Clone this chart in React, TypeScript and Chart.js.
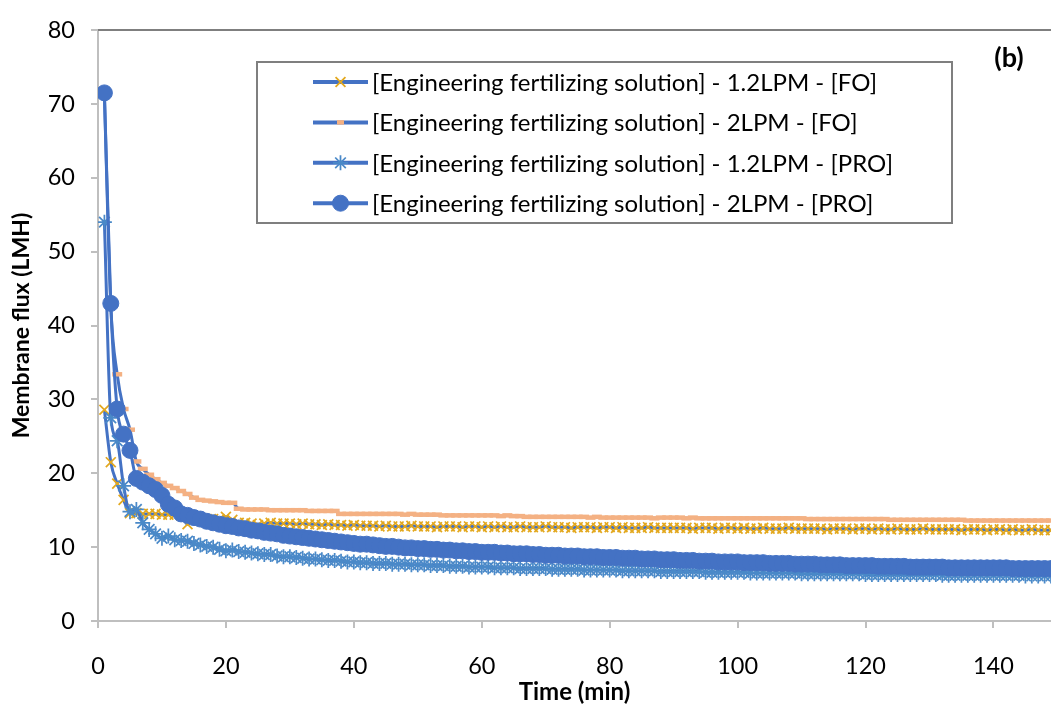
import { useEffect, useRef } from 'react';
import { Chart, registerables } from 'chart.js';
import { drawPoint } from 'chart.js/helpers';

Chart.register(...registerables);

const TIME_MIN = [
  1, 2, 3, 4, 5, 6, 7, 8, 9, 10, 11, 12, 13, 14, 15, 16, 17, 18, 19, 20,
  21, 22, 23, 24, 25, 26, 27, 28, 29, 30, 31, 32, 33, 34, 35, 36, 37, 38, 39, 40,
  41, 42, 43, 44, 45, 46, 47, 48, 49, 50, 51, 52, 53, 54, 55, 56, 57, 58, 59, 60,
  61, 62, 63, 64, 65, 66, 67, 68, 69, 70, 71, 72, 73, 74, 75, 76, 77, 78, 79, 80,
  81, 82, 83, 84, 85, 86, 87, 88, 89, 90, 91, 92, 93, 94, 95, 96, 97, 98, 99, 100,
  101, 102, 103, 104, 105, 106, 107, 108, 109, 110, 111, 112, 113, 114, 115, 116, 117, 118, 119, 120,
  121, 122, 123, 124, 125, 126, 127, 128, 129, 130, 131, 132, 133, 134, 135, 136, 137, 138, 139, 140,
  141, 142, 143, 144, 145, 146, 147, 148, 149, 150,
];

const FO_12LPM = [
  28.6, 21.5, 18.6, 16.4, 14.6, 14.6, 14.5, 14.5, 14.5, 14.4,
  14.4, 14.4, 14.3, 13.1, 13.9, 13.9, 13.8, 13.8, 13.8, 14.1,
  13.7, 13.3, 13.3, 13.2, 13.0, 13.2, 13.3, 13.2, 13.2, 13.2,
  13.1, 13.2, 13.1, 13.1, 13.0, 13.1, 13.0, 13.0, 12.9, 13.0,
  12.9, 12.9, 12.9, 12.8, 12.9, 12.8, 12.8, 12.8, 12.9, 12.8,
  12.8, 12.8, 12.7, 12.8, 12.8, 12.8, 12.7, 12.8, 12.8, 12.7,
  12.8, 12.7, 12.8, 12.7, 12.7, 12.8, 12.7, 12.7, 12.7, 12.8,
  12.7, 12.7, 12.7, 12.6, 12.7, 12.7, 12.7, 12.6, 12.7, 12.7,
  12.6, 12.7, 12.6, 12.6, 12.6, 12.7, 12.6, 12.6, 12.6, 12.6,
  12.6, 12.6, 12.5, 12.6, 12.6, 12.6, 12.5, 12.6, 12.6, 12.5,
  12.6, 12.5, 12.5, 12.6, 12.5, 12.5, 12.5, 12.6, 12.5, 12.5,
  12.5, 12.5, 12.5, 12.4, 12.5, 12.5, 12.5, 12.4, 12.5, 12.5,
  12.4, 12.5, 12.4, 12.4, 12.5, 12.4, 12.4, 12.4, 12.5, 12.4,
  12.4, 12.4, 12.4, 12.4, 12.3, 12.4, 12.4, 12.4, 12.3, 12.4,
  12.4, 12.3, 12.4, 12.3, 12.3, 12.4, 12.3, 12.3, 12.3, 12.3,
];

const FO_2LPM = [
  71.2, 42.6, 33.4, 28.7, 25.9, 21.6, 20.6, 19.8, 19.2, 18.7,
  18.3, 18.0, 17.6, 17.2, 16.7, 16.4, 16.3, 16.2, 16.1, 16.0,
  16.0, 15.2, 15.1, 15.1, 15.1, 15.1, 15.0, 15.0, 15.0, 15.0,
  15.0, 15.0, 14.9, 14.9, 14.9, 14.9, 14.9, 14.5, 14.5, 14.5,
  14.5, 14.5, 14.5, 14.5, 14.5, 14.5, 14.5, 14.4, 14.5, 14.4,
  14.4, 14.4, 14.4, 14.3, 14.3, 14.3, 14.3, 14.3, 14.3, 14.3,
  14.3, 14.3, 14.2, 14.3, 14.2, 14.2, 14.1, 14.1, 14.1, 14.1,
  14.1, 14.1, 14.1, 14.1, 14.1, 14.1, 14.0, 14.1, 14.0, 14.0,
  14.0, 14.0, 14.0, 14.0, 14.0, 14.0, 13.9, 14.0, 14.0, 14.0,
  14.0, 13.9, 14.0, 13.9, 13.9, 13.9, 13.9, 13.9, 13.9, 13.9,
  13.9, 13.9, 13.9, 13.9, 13.9, 13.9, 13.9, 13.9, 13.9, 13.9,
  13.8, 13.8, 13.8, 13.8, 13.8, 13.8, 13.8, 13.8, 13.8, 13.8,
  13.8, 13.8, 13.8, 13.7, 13.7, 13.7, 13.7, 13.7, 13.7, 13.7,
  13.7, 13.7, 13.7, 13.7, 13.7, 13.6, 13.6, 13.6, 13.6, 13.6,
  13.6, 13.6, 13.6, 13.6, 13.6, 13.6, 13.6, 13.6, 13.6, 13.6,
];

const PRO_12LPM = [
  54.0, 27.5, 24.4, 18.3, 14.8, 15.1, 13.3, 12.4, 11.8, 11.2,
  11.5, 11.0, 10.9, 10.8, 10.5, 10.3, 10.1, 10.0, 9.7, 9.5,
  9.6, 9.4, 9.3, 9.2, 9.1, 9.0, 9.0, 8.8, 8.7, 8.7,
  8.6, 8.5, 8.4, 8.4, 8.3, 8.2, 8.2, 8.1, 8.0, 8.0,
  7.9, 7.9, 7.8, 7.8, 7.8, 7.7, 7.7, 7.7, 7.6, 7.6,
  7.6, 7.5, 7.5, 7.5, 7.4, 7.4, 7.4, 7.3, 7.3, 7.3,
  7.3, 7.2, 7.2, 7.2, 7.2, 7.1, 7.1, 7.1, 7.1, 7.1,
  7.0, 7.0, 7.0, 7.0, 7.0, 6.9, 6.9, 6.9, 6.9, 6.9,
  6.9, 6.8, 6.8, 6.8, 6.8, 6.8, 6.8, 6.7, 6.7, 6.7,
  6.7, 6.7, 6.7, 6.7, 6.6, 6.6, 6.6, 6.6, 6.6, 6.6,
  6.6, 6.5, 6.5, 6.5, 6.5, 6.5, 6.5, 6.5, 6.5, 6.4,
  6.4, 6.4, 6.4, 6.4, 6.4, 6.4, 6.4, 6.4, 6.4, 6.3,
  6.3, 6.3, 6.3, 6.3, 6.3, 6.3, 6.3, 6.3, 6.3, 6.3,
  6.3, 6.2, 6.2, 6.2, 6.2, 6.2, 6.2, 6.2, 6.2, 6.2,
  6.2, 6.2, 6.2, 6.2, 6.1, 6.1, 6.1, 6.1, 6.1, 6.1,
];

const PRO_2LPM = [
  71.5, 43.0, 28.7, 25.3, 23.1, 19.3, 18.8, 18.3, 17.8, 17.0,
  15.8, 15.3, 14.5, 14.3, 14.0, 13.8, 13.5, 13.3, 13.1, 12.9,
  12.8, 12.6, 12.5, 12.3, 12.2, 12.0, 11.9, 11.8, 11.6, 11.5,
  11.4, 11.3, 11.2, 11.1, 11.0, 10.9, 10.8, 10.7, 10.6, 10.5,
  10.4, 10.4, 10.3, 10.2, 10.1, 10.1, 10.0, 9.9, 9.9, 9.8,
  9.8, 9.7, 9.7, 9.6, 9.6, 9.5, 9.5, 9.4, 9.4, 9.3,
  9.3, 9.3, 9.2, 9.2, 9.1, 9.1, 9.1, 9.0, 9.0, 8.9,
  8.9, 8.9, 8.8, 8.8, 8.8, 8.7, 8.7, 8.7, 8.6, 8.6,
  8.6, 8.5, 8.5, 8.5, 8.4, 8.4, 8.4, 8.3, 8.3, 8.3,
  8.2, 8.2, 8.2, 8.1, 8.1, 8.1, 8.0, 8.0, 8.0, 8.0,
  7.9, 7.9, 7.9, 7.9, 7.8, 7.8, 7.8, 7.8, 7.7, 7.7,
  7.7, 7.7, 7.6, 7.6, 7.6, 7.6, 7.5, 7.5, 7.5, 7.5,
  7.5, 7.4, 7.4, 7.4, 7.4, 7.4, 7.3, 7.3, 7.3, 7.3,
  7.3, 7.3, 7.2, 7.2, 7.2, 7.2, 7.2, 7.2, 7.2, 7.2,
  7.2, 7.2, 7.1, 7.1, 7.1, 7.1, 7.1, 7.1, 7.1, 7.1,
];

const SERIES_LABELS = [
  '[Engineering fertilizing solution] - 1.2LPM - [FO]',
  '[Engineering fertilizing solution] - 2LPM - [FO]',
  '[Engineering fertilizing solution] - 1.2LPM - [PRO]',
  '[Engineering fertilizing solution] - 2LPM - [PRO]',
];
const X_TICKS = [0, 20, 40, 60, 80, 100, 120, 140];
const Y_TICKS = [0, 10, 20, 30, 40, 50, 60, 70, 80];
const X_TITLE = 'Time (min)';
const Y_TITLE = 'Membrane flux (LMH)';
const PANEL_LABEL = '(b)';

const FONT = 'Lato';
const LINE_BLUE = '#4472C4';
const AXIS_GREY = '#BFBFBF';

const STYLES = [
  { pointStyle: 'crossRot', radius: 7, border: '#E3A81E', fill: 'rgba(0,0,0,0)', bw: 1.75 },
  { pointStyle: 'line', radius: 5, border: '#F4B183', fill: '#F4B183', bw: 4.5 },
  { pointStyle: 'star', radius: 7.5, border: '#4A89C8', fill: 'rgba(0,0,0,0)', bw: 1.75 },
  { pointStyle: 'circle', radius: 8, border: LINE_BLUE, fill: LINE_BLUE, bw: 1 },
];

const SERIES_VALUES = [FO_12LPM, FO_2LPM, PRO_12LPM, PRO_2LPM];

const overlayPlugin = {
  id: 'overlay',
  afterDraw(chart: any) {
    const ctx = chart.ctx as CanvasRenderingContext2D;
    const area = chart.chartArea;
    ctx.save();
    ctx.strokeStyle = '#7F7F7F';
    ctx.lineWidth = 2;
    ctx.beginPath();
    ctx.moveTo(area.left, area.top);
    ctx.lineTo(area.right, area.top);
    ctx.stroke();

    const bx = 257, by = 62, bw = 695, bh = 161;
    ctx.fillStyle = '#FFFFFF';
    ctx.fillRect(bx, by, bw, bh);
    ctx.strokeStyle = '#7F7F7F';
    ctx.lineWidth = 2;
    ctx.strokeRect(bx, by, bw, bh);

    SERIES_LABELS.forEach((label, i) => {
      const cy = 82 + i * 40.4;
      ctx.strokeStyle = LINE_BLUE;
      ctx.lineWidth = 4;
      ctx.beginPath();
      ctx.moveTo(313, cy);
      ctx.lineTo(368, cy);
      ctx.stroke();
      const s = STYLES[i];
      ctx.strokeStyle = s.border;
      ctx.fillStyle = s.fill;
      ctx.lineWidth = s.bw;
      const r = s.pointStyle === 'line' ? 3.5 : s.radius;
      drawPoint(ctx, { pointStyle: s.pointStyle as any, radius: r, rotation: 0, borderWidth: s.bw }, 340.5, cy);
      ctx.fillStyle = '#000000';
      ctx.font = `24px ${FONT}`;
      ctx.textAlign = 'left';
      ctx.textBaseline = 'middle';
      ctx.fillText(label, 372, cy + 1);
    });

    ctx.font = `bold 27px ${FONT}`;
    ctx.fillStyle = '#000000';
    ctx.textAlign = 'center';
    ctx.textBaseline = 'middle';
    ctx.fillText(PANEL_LABEL, 1009, 58);
    ctx.restore();
  },
};

export default function App() {
  const ref = useRef<HTMLCanvasElement>(null);
  useEffect(() => {
    document.body.style.margin = '0';
    const canvas = ref.current;
    if (!canvas) return;
    const datasets = SERIES_VALUES.map((vals, i) => ({
      label: SERIES_LABELS[i],
      data: TIME_MIN.map((t, j) => ({ x: t, y: vals[j] })),
      borderColor: LINE_BLUE,
      borderWidth: 3,
      backgroundColor: STYLES[i].fill,
      pointStyle: STYLES[i].pointStyle as any,
      pointRadius: STYLES[i].radius,
      pointBorderColor: STYLES[i].border,
      pointBackgroundColor: STYLES[i].fill,
      pointBorderWidth: STYLES[i].bw,
      pointHoverRadius: STYLES[i].radius,
      cubicInterpolationMode: 'monotone' as const,
      fill: false,
      order: 4 - i,
    }));
    const chart = new Chart(canvas, {
      type: 'line',
      data: { datasets },
      options: {
        animation: false,
        responsive: false,
        devicePixelRatio: 1,
        layout: { autoPadding: false, padding: { top: 21, right: 0, left: 0, bottom: 0 } },
        plugins: { legend: { display: false }, tooltip: { enabled: false } },
        scales: {
          x: {
            type: 'linear',
            min: 0,
            max: 149,
            afterBuildTicks: (scale: any) => {
              scale.ticks = X_TICKS.map((v) => ({ value: v }));
            },
            afterFit: (scale: any) => {
              scale.height = 90;
            },
            ticks: {
              color: '#000000',
              font: { family: FONT, size: 23.5 },
              padding: 24,
              maxRotation: 0,
              autoSkip: false,
            },
            grid: {
              drawOnChartArea: false,
              drawTicks: true,
              tickLength: 7,
              color: AXIS_GREY,
              lineWidth: 2,
            },
            border: { display: true, color: AXIS_GREY, width: 2 },
            title: {
              display: true,
              text: X_TITLE,
              color: '#000000',
              font: { family: FONT, size: 24, weight: 'bold' },
              padding: { top: 0, bottom: 4 },
            },
          },
          y: {
            type: 'linear',
            min: 0,
            max: 80,
            afterBuildTicks: (scale: any) => {
              scale.ticks = Y_TICKS.map((v) => ({ value: v }));
            },
            afterFit: (scale: any) => {
              scale.width = 98;
            },
            ticks: {
              color: '#000000',
              font: { family: FONT, size: 23.5 },
              padding: 16,
            },
            grid: {
              drawOnChartArea: false,
              drawTicks: true,
              tickLength: 7,
              color: AXIS_GREY,
              lineWidth: 2,
            },
            border: { display: true, color: AXIS_GREY, width: 2 },
            title: {
              display: true,
              text: Y_TITLE,
              color: '#000000',
              font: { family: FONT, size: 23, weight: 'bold' },
              padding: { top: 8, bottom: 0 },
            },
          },
        },
      },
      plugins: [overlayPlugin],
    });
    return () => chart.destroy();
  }, []);
  return (
    <div style={{ width: 1051, height: 711, position: 'relative', background: '#FFFFFF' }}>
      <canvas ref={ref} width={1051} height={711} style={{ display: 'block' }} />
    </div>
  );
}
